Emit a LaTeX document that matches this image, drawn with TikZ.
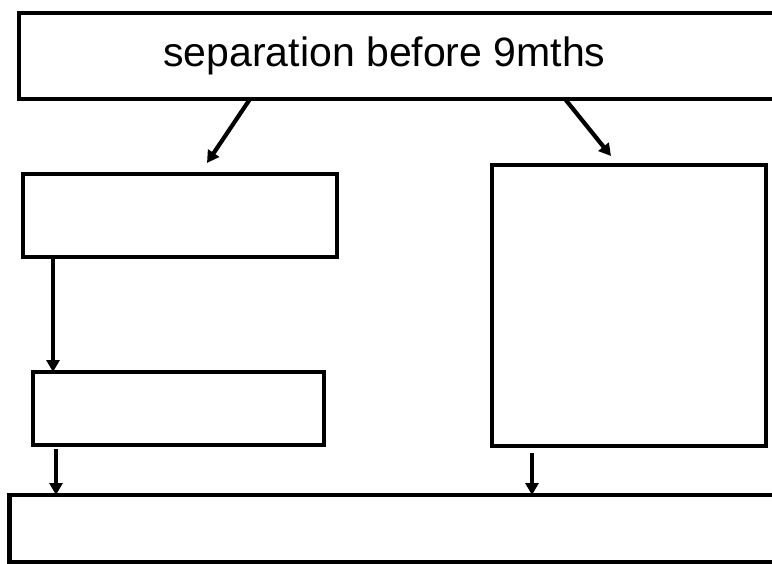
\documentclass[tikz,border=0pt]{standalone}
\usepackage{fontspec}
\setmainfont{Liberation Sans}
\usetikzlibrary{arrows.meta}
\begin{document}
\begin{tikzpicture}[x=1pt,y=-1pt,
  box/.style={draw=black, line width=4.5pt, fill=white, rectangle, inner sep=0pt, outer sep=0pt},
  arr/.style={draw=black, line width=4.2pt, -{Triangle[length=12pt,width=13pt]}}]
\useasboundingbox (0,0) rectangle (772,563);
\clip (0,0) rectangle (772,563);
\node[box, minimum width=781pt, minimum height=86pt,
  label={[font=\fontsize{41}{48}\selectfont, xshift=-25pt]center:separation before 9mths}] (top) at (409.5,56) {};
\node[box, minimum width=314pt, minimum height=83pt] (b1) at (180,215.5) {};
\node[box, minimum width=291pt, minimum height=73pt] (b2) at (178.5,408.5) {};
\node[box, minimum width=274pt, minimum height=281pt] (rb) at (629,305.5) {};
\node[box, minimum width=790pt, minimum height=67pt] (bot) at (404.5,528.5) {};
\coordinate (e1) at (207,163);
\coordinate (e2) at (611,156);
\coordinate (s4) at (56,449);
\coordinate (s5) at (532,453);
\draw[arr] ([xshift=231pt]top.south west) -- (e1);
\draw[arr] ([xshift=546pt]top.south west) -- (e2);
\draw[arr] ([xshift=30pt]b1.south west) -- ([xshift=20pt]b2.north west);
\draw[arr] (s4) -- (s4 |- bot.north);
\draw[arr] (s5) -- (s5 |- bot.north);
\end{tikzpicture}
\end{document}
